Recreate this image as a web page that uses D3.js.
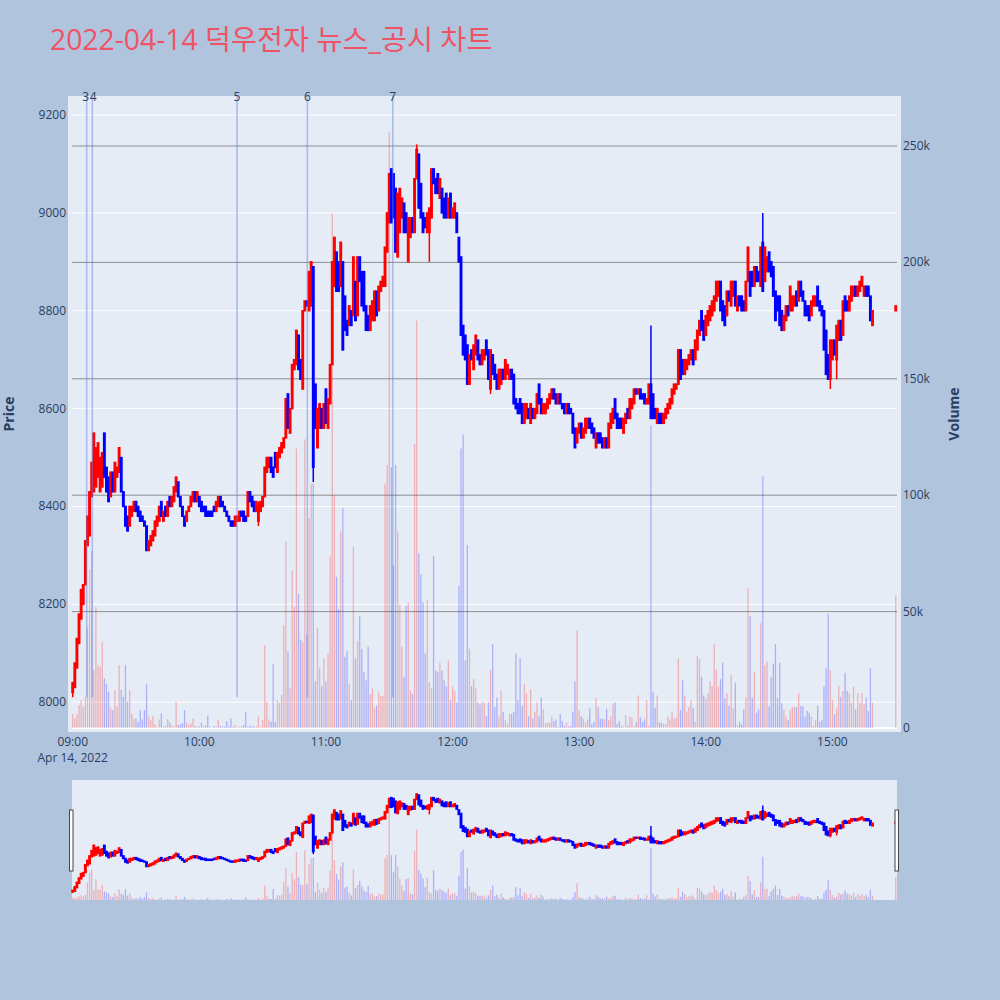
<!DOCTYPE html>
<html>
<head>
<meta charset="utf-8">
<script src="https://cdn.jsdelivr.net/npm/d3@7"></script>
<style>
  body { margin: 0; background: #b0c4de; }
  svg { display: block; }
</style>
</head>
<body>
<svg id="chart" width="1000" height="1000"></svg>
<script>
// 1-minute bars, 09:00 .. 15:19, then the 15:30 closing auction (last entry)
const sessionStart = "2022-04-14T09:00:00";
const closingAuction = "2022-04-14T15:30:00";

const openPrices = [
  8020,8030,8070,8120,8170,8200,8240,8320,8340,8420, // 09:00
  8430,8440,8460,8430,8440,8550,8480,8460,8420,8470,
  8430,8460,8470,8500,8430,8400,8380,8360,8380,8390,
  8410,8400,8390,8380,8370,8360,8310,8320,8330,8340,
  8360,8370,8410,8370,8400,8380,8420,8400,8410,8430,
  8450,8420,8400,8380,8370,8390,8400,8410,8430,8410,
  8420,8410,8400,8400,8390,8390,8390,8400,8390,8400, // 10:00
  8420,8410,8400,8390,8380,8370,8370,8360,8370,8370,
  8390,8390,8380,8380,8430,8420,8410,8390,8370,8390,
  8400,8420,8470,8480,8500,8480,8510,8470,8500,8510,
  8520,8540,8630,8550,8600,8680,8690,8750,8700,8640,
  8800,8820,8800,8810,8890,8650,8520,8560,8600,8560,
  8640,8560,8610,8690,8850,8920,8900,8850,8900,8830, // 11:00
  8780,8770,8800,8790,8860,8790,8910,8880,8880,8810,
  8790,8760,8780,8780,8840,8800,8840,8850,8850,8920,
  8980,9090,9080,9050,8910,8960,8990,9020,9000,8900,
  8950,8990,8960,9070,9120,9060,9000,8990,8960,8960,
  8990,9090,9070,9080,9030,9050,9030,9040,8990,9040,
  8990,8990,9000,8950,8910,8770,8750,8730,8650,8720, // 12:00
  8680,8710,8740,8710,8690,8700,8740,8720,8640,8710,
  8690,8670,8640,8650,8680,8660,8670,8660,8680,8670,
  8620,8610,8620,8610,8570,8580,8600,8570,8600,8580,
  8590,8650,8620,8590,8590,8600,8610,8620,8640,8630,
  8610,8630,8610,8610,8590,8610,8600,8590,8560,8530,
  8550,8570,8540,8550,8560,8580,8570,8560,8520,8550, // 13:00
  8550,8540,8520,8540,8520,8560,8570,8620,8590,8580,
  8580,8550,8570,8600,8580,8600,8610,8640,8630,8640,
  8630,8630,8610,8610,8650,8630,8600,8570,8590,8590,
  8570,8580,8590,8600,8610,8630,8640,8650,8720,8700,
  8670,8680,8690,8700,8720,8700,8720,8750,8800,8780,
  8750,8770,8780,8790,8800,8820,8830,8860,8820,8810, // 14:00
  8790,8840,8810,8830,8860,8800,8830,8830,8820,8800,
  8860,8880,8880,8850,8890,8880,8850,8940,8860,8880,
  8920,8900,8890,8840,8830,8830,8800,8760,8780,8810,
  8800,8800,8810,8840,8820,8860,8840,8820,8810,8810,
  8790,8810,8810,8850,8820,8810,8800,8760,8710,8660,
  8700,8740,8700,8740,8780,8750,8830,8820,8800,8820, // 15:00
  8830,8850,8830,8840,8850,8830,8850,8850,8830,8770,
  8800
];

const closePrices = [
  8040,8080,8130,8180,8230,8240,8330,8380,8430,8490,
  8550,8520,8530,8500,8510,8460,8430,8410,8470,8430,
  8490,8480,8520,8430,8400,8360,8350,8400,8400,8410,
  8390,8380,8370,8370,8360,8310,8330,8340,8350,8370,
  8380,8400,8380,8390,8380,8410,8400,8420,8440,8460,
  8420,8400,8380,8360,8390,8400,8420,8430,8410,8430,
  8400,8390,8390,8380,8380,8380,8380,8390,8410,8420,
  8400,8400,8390,8380,8370,8360,8360,8380,8380,8390,
  8380,8370,8370,8430,8410,8400,8390,8410,8400,8410,
  8420,8480,8500,8500,8470,8460,8480,8510,8520,8530,
  8540,8620,8560,8600,8690,8700,8760,8680,8660,8800,
  8820,8810,8880,8900,8480,8560,8600,8610,8560,8610,
  8570,8620,8690,8900,8950,8840,8840,8940,8720,8760,
  8750,8810,8770,8910,8780,8910,8860,8810,8800,8760,
  8760,8810,8820,8840,8790,8850,8860,8870,8930,9000,
  9080,8980,8990,8920,9040,9050,9030,8960,8960,8990,
  8990,8960,9070,9130,9010,8990,8960,8970,9000,9010,
  9090,9060,9040,9040,9070,9000,8990,8990,9030,8990,
  9010,9020,8960,8900,8750,8710,8700,8650,8710,8700,
  8730,8750,8700,8690,8720,8720,8710,8660,8720,8670,
  8660,8640,8680,8680,8660,8700,8690,8680,8660,8610,
  8600,8590,8590,8570,8610,8610,8580,8610,8580,8600,
  8630,8610,8590,8610,8610,8620,8630,8640,8620,8610,
  8630,8610,8600,8590,8610,8590,8590,8550,8520,8560,
  8570,8540,8560,8580,8580,8560,8550,8540,8550,8530,
  8530,8520,8540,8520,8570,8590,8600,8580,8560,8560,
  8560,8580,8590,8580,8620,8620,8640,8630,8640,8620,
  8620,8610,8620,8650,8580,8580,8580,8600,8570,8570,
  8590,8600,8610,8620,8640,8650,8650,8720,8660,8670,
  8700,8700,8710,8720,8690,8740,8760,8780,8760,8740,
  8790,8800,8810,8820,8830,8860,8860,8800,8780,8770,
  8840,8820,8860,8860,8810,8830,8810,8800,8800,8860,
  8930,8830,8850,8890,8860,8860,8930,8840,8930,8910,
  8880,8870,8830,8780,8800,8770,8760,8790,8810,8790,
  8850,8830,8830,8810,8860,8830,8820,8790,8790,8780,
  8820,8830,8830,8810,8800,8790,8720,8670,8660,8740,
  8740,8710,8770,8780,8740,8820,8800,8800,8830,8850,
  8850,8830,8850,8860,8870,8850,8830,8830,8780,8800,
  8810
];

// traded volume, thousands of shares
const volumesK = [
  6,4.1,6,9.9,12,9.2,13.4,43,68,76,
  25,52,27,26.3,37,21.3,18.9,15.6,8.4,7.7,
  16.3,9.2,27,16.3,13.4,27,11.3,16.3,6,4.1,
  4.1,2.7,7.7,3.7,7.7,18.9,4.9,3.4,5.1,1.6,
  0.6,3.7,6.3,0.6,0.9,3.7,2.3,1,0.6,11.3,
  1.3,1.6,2,7.7,2.3,1.3,2,4.1,0.9,0.6,
  0.6,2.3,0.6,1.3,5.3,0.6,0.1,0.9,0.6,3.4,
  0.9,0.6,0.6,3,0.6,4.1,0.6,1.3,0.6,0.6,
  0.6,1.3,7,0.6,1,0.6,0.6,0.6,4.9,0.6,
  3.4,35.6,11.3,3.7,2.7,27.5,2.7,12,10.9,14.2,
  44,80,33,17,67.7,52,120,57.6,38,37,
  124,40,90,105,105,20,43,26,18,30,
  20,32,73.6,221,100,65,51,84.5,94.6,30.6,
  33,18.9,12,77.8,30,37.4,48,34,24,20.5,
  35,14.6,17,8.8,9.6,15.5,13.8,13.8,105,113,
  256,112,70,113,84.5,53,35,22,52.5,54,
  16,14.6,122,175,75,66,54,32,55,19.7,
  17,74,24.7,24,28,24.7,20.5,18,29,12,
  18,16,11,61,120,126,29,78.6,34,18,
  21,17,11,10,11,11,5,11,25,36,
  9,13,5,16,7,3.4,2,6,6,7,
  32,12,30,9.6,19,15,5,16.6,4,7,
  11,5,13,8,2,2.3,2.3,5,3,3.7,
  0.6,6,3,1,2.3,0.6,0.9,7,20,42,
  7.7,5,4,2.3,3.7,8.4,1.7,2.6,13,9,
  4,4,4,8.3,3.4,5,10,11,1.7,3,
  0.9,0.6,5.6,1.1,5,4.4,0.6,2.4,14,4.6,
  2.7,3.7,12,1,130,15.6,8.7,14,2.3,2.3,
  1.7,1.7,5,3.7,7,4,4.6,30,7.7,20.6,
  14,7,9,12,8.6,2.7,31,29.6,22,14,
  12.4,15,20,18,36,25,18,21,28,12.7,
  15,9.4,22.7,8.4,19.4,1.3,2.7,1.6,8,13,
  60,48,13,24,6.6,8,45,108,27,28.7,
  9.4,22,27.7,36,13,28,10.6,8,5,3.4,
  7.7,9,9,9,15,9.4,9.4,4.9,7.4,6.6,
  4.9,1,3.4,9.6,2.7,3.4,18,25.6,49,25,
  12,6,8.3,18,13.4,15.9,23.7,15.9,14.9,10.9,
  17.7,8,15,10.9,15,10.3,13,7.3,25.6,10.9,
  57
];

// bars whose wick reaches beyond the body: [bar index, low, high]
const wicks = [
  [0, 8010, 8040], [88, 8360, 8410], [114, 8450, 8890], [163, 9070, 9140],
  [169, 8900, 9010], [198, 8630, 8720], [274, 8580, 8770], [327, 8840, 9000],
  [359, 8640, 8740], [362, 8660, 8770]
];

const newsTimes = ["09:06:38", "09:09:17", "10:17:52", "10:51:11", "11:31:40"];
const newsLabels = ["3", "4", "5", "6", "7"];

const priceTicks = [8000, 8200, 8400, 8600, 8800, 9000, 9200];
const volumeTicks = [0, 50000, 100000, 150000, 200000, 250000];
const titleText = "2022-04-14 덕우전자 뉴스_공시 차트";

const font = '"Open Sans", "Noto Sans CJK KR", sans-serif';
const textColor = "#2a3f5f";
const upColor = "#ff0000";
const downColor = "#0000ff";

const parse = d3.timeParse("%Y-%m-%dT%H:%M:%S");
const t0 = parse(sessionStart);

const candles = openPrices.map((o, i) => {
  const c = closePrices[i];
  const t = i < openPrices.length - 1 ? d3.timeMinute.offset(t0, i) : parse(closingAuction);
  return { t, o, c, h: Math.max(o, c), l: Math.min(o, c), v: volumesK[i] * 1000, up: c >= o };
});
wicks.forEach(([i, lo, hi]) => { candles[i].l = lo; candles[i].h = hi; });

const svg = d3.select("#chart").style("font-family", font);

// x range runs a little past the first and last bar
const x = d3.scaleTime()
  .domain([parse("2022-04-14T08:59:40"), parse("2022-04-14T15:30:36")])
  .range([72, 897]);
const yPrice = d3.scaleLinear().domain([7939, 9239]).range([732, 96]);
const yVol = d3.scaleLinear().domain([0, 250000]).range([728, 146]);

// title
svg.append("text")
  .attr("x", 50).attr("y", 50)
  .attr("fill", "#ef5366")
  .style("font-size", "28.3px")
  .text(titleText);

// plot background
svg.append("rect")
  .attr("x", 68).attr("y", 96).attr("width", 833).attr("height", 636)
  .attr("fill", "#e5ecf6");

// price grid (white)
svg.append("g").selectAll("line").data(priceTicks).join("line")
  .attr("x1", 72).attr("x2", 897)
  .attr("y1", d => yPrice(d)).attr("y2", d => yPrice(d))
  .attr("stroke", "#fff").attr("stroke-width", 1);

// volume grid (grey) + zero line
svg.append("g").selectAll("line").data(volumeTicks.slice(1)).join("line")
  .attr("x1", 72).attr("x2", 897)
  .attr("y1", d => yVol(d)).attr("y2", d => yVol(d))
  .attr("stroke", "#8e8e8e").attr("stroke-width", 1);
svg.append("line")
  .attr("x1", 72).attr("x2", 897).attr("y1", yVol(0)).attr("y2", yVol(0))
  .attr("stroke", "#fff").attr("stroke-width", 2);

function drawBars(g, xs, yv, barW) {
  g.append("g").selectAll("rect").data(candles).join("rect")
    .attr("x", d => xs(d.t) - barW / 2)
    .attr("width", barW)
    .attr("y", d => yv(d.v))
    .attr("height", d => yv(0) - yv(d.v))
    .attr("fill", d => d.up ? upColor : downColor)
    .attr("opacity", 0.25);
}

function drawCandles(g, xs, yp, lw) {
  const c = g.append("g").selectAll("g").data(candles).join("g")
    .attr("stroke", d => d.up ? upColor : downColor)
    .attr("fill", d => d.up ? upColor : downColor);
  c.append("line")
    .attr("x1", d => xs(d.t)).attr("x2", d => xs(d.t))
    .attr("y1", d => yp(d.h)).attr("y2", d => yp(d.l))
    .attr("stroke-width", lw);
  c.append("rect")
    .attr("x", d => xs(d.t) - 0.7)
    .attr("width", 1.4)
    .attr("y", d => yp(Math.max(d.o, d.c)))
    .attr("height", d => Math.abs(yp(d.o) - yp(d.c)))
    .attr("stroke-width", lw);
}

const main = svg.append("g");
drawBars(main, x, yVol, 1.3);
drawCandles(main, x, yPrice, 1.5);

// news markers
const newsX = newsTimes.map(s => x(parse("2022-04-14T" + s)));
svg.append("g").selectAll("line").data(newsX).join("line")
  .attr("x1", d => d).attr("x2", d => d)
  .attr("y1", yPrice(8010)).attr("y2", 96)
  .attr("stroke", "#5f7fe0").attr("stroke-opacity", 0.45).attr("stroke-width", 1.6);
svg.append("g").selectAll("text").data(newsLabels).join("text")
  .attr("x", (d, i) => newsX[i] + (i === 0 ? -1 : i === 1 ? 1 : 0))
  .attr("y", 101)
  .attr("text-anchor", "middle")
  .attr("fill", textColor)
  .style("font-size", "12px")
  .text(d => d);

// left price axis labels
svg.append("g").selectAll("text").data(priceTicks).join("text")
  .attr("x", 66).attr("y", d => yPrice(d) + 4)
  .attr("text-anchor", "end").attr("fill", textColor)
  .style("font-size", "12px")
  .text(d => d);

// right volume axis labels
svg.append("g").selectAll("text").data(volumeTicks).join("text")
  .attr("x", 903).attr("y", d => yVol(d) + 4)
  .attr("fill", textColor)
  .style("font-size", "12px")
  .text(d => d3.format("~s")(d));

// time axis
const hourTicks = x.ticks(d3.timeHour.every(1));
svg.append("g").selectAll("text").data(hourTicks).join("text")
  .attr("x", d => x(d)).attr("y", 746)
  .attr("text-anchor", "middle").attr("fill", textColor)
  .style("font-size", "12px")
  .text(d3.timeFormat("%H:%M"));
svg.append("text")
  .attr("x", x(hourTicks[0])).attr("y", 762)
  .attr("text-anchor", "middle").attr("fill", textColor)
  .style("font-size", "12px")
  .text(d3.timeFormat("%b %-d, %Y")(hourTicks[0]));

// axis titles
svg.append("text")
  .attr("transform", "translate(14,414) rotate(-90)")
  .attr("text-anchor", "middle").attr("fill", textColor)
  .style("font-size", "14px").style("font-weight", "bold")
  .text("Price");
svg.append("text")
  .attr("transform", "translate(959,414) rotate(-90)")
  .attr("text-anchor", "middle").attr("fill", textColor)
  .style("font-size", "14px").style("font-weight", "bold")
  .text("Volume");

// range slider
const sliderTop = 780, sliderBottom = 900;
svg.append("rect")
  .attr("x", 72).attr("y", sliderTop).attr("width", 825).attr("height", sliderBottom - sliderTop)
  .attr("fill", "#e5ecf6");
const ySlidePrice = d3.scaleLinear().domain([7930, 9290]).range([sliderBottom, sliderTop]);
const ySlideVol = d3.scaleLinear().domain([0, 300000]).range([sliderBottom, sliderTop]);
const mini = svg.append("g");
drawBars(mini, x, ySlideVol, 1.3);
drawCandles(mini, x, ySlidePrice, 1.5);

[69.5, 895].forEach(hx => {
  svg.append("rect")
    .attr("x", hx).attr("y", 810).attr("width", 3.5).attr("height", 61)
    .attr("fill", "#fff").attr("stroke", "#444").attr("stroke-width", 1);
});
</script>
</body>
</html>
